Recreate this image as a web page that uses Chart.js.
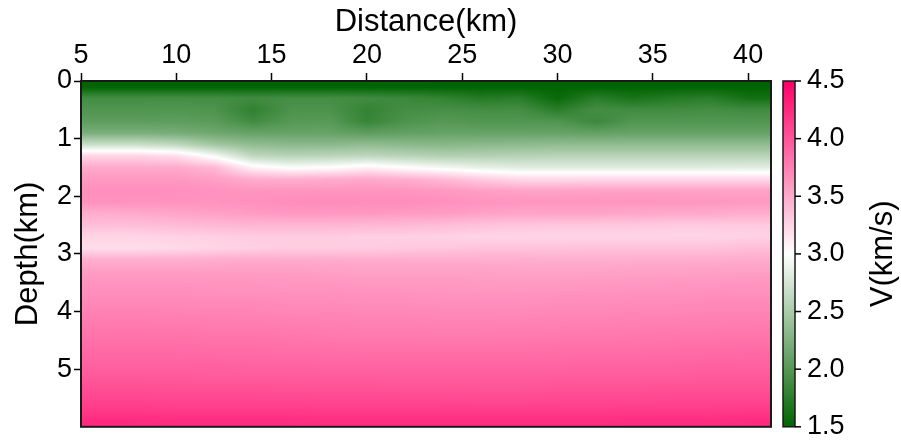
<!DOCTYPE html>
<html>
<head>
<meta charset="utf-8">
<script src="https://cdn.jsdelivr.net/npm/chart.js@4"></script>
<style>
  html, body { margin: 0; padding: 0; background: #fff; }
  canvas { display: block; }
</style>
</head>
<body>
<canvas id="chart" width="901" height="445"></canvas>
<script>
// grid sample positions (km)
const distance = [6, 8, 10, 12, 14, 16, 18, 20, 22, 24, 26, 28, 30, 32, 34, 36, 38, 40];
const depth = [0.1, 0.3, 0.5, 0.7, 0.9, 1.1, 1.3, 1.5, 1.7, 1.9, 2.1, 2.3, 2.5, 2.7, 2.9,
               3.1, 3.3, 3.5, 3.7, 3.9, 4.1, 4.3, 4.5, 4.7, 4.9, 5.1, 5.3, 5.5, 5.7, 5.9];

// velocity (km/s), one row per depth, one column per distance
const velocity = [
  [1.5,1.5,1.5,1.5,1.5,1.5,1.5,1.5,1.5,1.5,1.5,1.5,1.5,1.5,1.5,1.5,1.5,1.5],
  [1.9,1.9,1.9,1.9,1.88,1.9,1.9,1.88,1.85,1.8,1.72,1.75,1.55,1.75,1.65,1.72,1.75,1.62],
  [1.97,1.97,1.98,1.96,1.78,1.95,1.95,1.8,1.9,1.92,1.9,1.9,1.75,1.9,1.88,1.88,1.9,1.88],
  [2.05,2.05,2.05,2.03,1.88,2.0,2.02,1.82,1.95,2.0,1.98,1.98,1.97,1.85,1.98,1.98,1.98,1.98],
  [2.22,2.22,2.2,2.15,2.1,2.1,2.1,2.05,2.08,2.1,2.1,2.1,2.1,2.08,2.1,2.1,2.1,2.1],
  [2.68,2.68,2.62,2.45,2.35,2.32,2.32,2.35,2.32,2.3,2.32,2.33,2.35,2.35,2.35,2.35,2.35,2.35],
  [3.25,3.25,3.2,2.95,2.62,2.58,2.6,2.62,2.58,2.55,2.55,2.57,2.58,2.58,2.58,2.58,2.58,2.58],
  [3.5,3.5,3.5,3.42,3.07,2.97,3.0,3.08,3.0,2.93,2.86,2.82,2.82,2.82,2.82,2.82,2.82,2.83],
  [3.6,3.6,3.6,3.56,3.48,3.46,3.48,3.5,3.47,3.4,3.3,3.22,3.22,3.22,3.22,3.22,3.22,3.22],
  [3.66,3.66,3.66,3.64,3.62,3.62,3.62,3.62,3.62,3.6,3.56,3.54,3.54,3.55,3.55,3.55,3.55,3.55],
  [3.64,3.64,3.63,3.63,3.65,3.67,3.68,3.67,3.67,3.65,3.63,3.62,3.62,3.62,3.62,3.62,3.61,3.6],
  [3.48,3.5,3.53,3.55,3.58,3.6,3.6,3.6,3.58,3.58,3.55,3.53,3.53,3.53,3.52,3.5,3.5,3.48],
  [3.38,3.38,3.4,3.42,3.43,3.43,3.43,3.42,3.41,3.39,3.36,3.34,3.33,3.33,3.33,3.31,3.31,3.31],
  [3.25,3.25,3.27,3.28,3.3,3.3,3.3,3.28,3.28,3.27,3.25,3.25,3.25,3.25,3.25,3.25,3.25,3.27],
  [3.2,3.2,3.22,3.25,3.28,3.3,3.3,3.3,3.32,3.33,3.35,3.35,3.35,3.36,3.36,3.36,3.36,3.38],
  [3.47,3.47,3.47,3.48,3.49,3.49,3.49,3.48,3.48,3.48,3.48,3.48,3.47,3.47,3.48,3.48,3.48,3.49],
  [3.57,3.57,3.57,3.57,3.57,3.57,3.56,3.55,3.55,3.55,3.55,3.54,3.54,3.54,3.55,3.55,3.56,3.56],
  [3.63,3.63,3.63,3.62,3.62,3.61,3.61,3.6,3.6,3.6,3.59,3.59,3.59,3.6,3.6,3.61,3.61,3.62],
  [3.67,3.67,3.67,3.66,3.66,3.65,3.65,3.64,3.64,3.63,3.63,3.63,3.64,3.64,3.65,3.65,3.66,3.66],
  [3.71,3.71,3.71,3.7,3.7,3.69,3.69,3.68,3.68,3.67,3.67,3.67,3.68,3.68,3.69,3.69,3.7,3.7],
  [3.76,3.76,3.75,3.75,3.74,3.73,3.73,3.72,3.72,3.71,3.71,3.71,3.72,3.72,3.73,3.73,3.74,3.74],
  [3.8,3.8,3.8,3.79,3.79,3.78,3.77,3.76,3.76,3.75,3.75,3.76,3.76,3.77,3.77,3.78,3.78,3.79],
  [3.84,3.84,3.84,3.83,3.83,3.82,3.81,3.8,3.8,3.8,3.8,3.8,3.81,3.81,3.82,3.82,3.83,3.83],
  [3.88,3.88,3.88,3.87,3.87,3.86,3.86,3.85,3.85,3.85,3.85,3.85,3.86,3.86,3.86,3.87,3.87,3.88],
  [3.92,3.92,3.92,3.92,3.91,3.91,3.9,3.9,3.9,3.9,3.9,3.9,3.9,3.91,3.91,3.91,3.92,3.92],
  [3.97,3.97,3.97,3.96,3.96,3.96,3.95,3.95,3.95,3.95,3.95,3.95,3.95,3.96,3.96,3.96,3.97,3.97],
  [4.03,4.03,4.02,4.02,4.02,4.01,4.01,4.01,4.0,4.0,4.0,4.0,4.01,4.01,4.01,4.02,4.02,4.02],
  [4.09,4.09,4.08,4.08,4.08,4.08,4.07,4.07,4.07,4.07,4.06,4.06,4.07,4.07,4.07,4.08,4.08,4.08],
  [4.16,4.16,4.15,4.15,4.15,4.15,4.14,4.14,4.14,4.14,4.14,4.14,4.14,4.14,4.15,4.15,4.15,4.16],
  [4.25,4.25,4.24,4.24,4.24,4.24,4.23,4.23,4.23,4.23,4.23,4.23,4.23,4.23,4.24,4.24,4.24,4.25]
];

const distanceTicks = [5, 10, 15, 20, 25, 30, 35, 40];
const depthTicks = [0, 1, 2, 3, 4, 5];
const colorbarTicks = [1.5, 2.0, 2.5, 3.0, 3.5, 4.0, 4.5];

// green -> white -> pink
const cmap = [
  [1.5, [0, 100, 0]],
  [3.0, [255, 255, 255]],
  [4.5, [255, 0, 102]]
];

function colorFor(v) {
  if (v <= cmap[0][0]) return cmap[0][1];
  const last = cmap[cmap.length - 1];
  if (v >= last[0]) return last[1];
  let i = 0;
  while (cmap[i + 1][0] < v) i++;
  const t = (v - cmap[i][0]) / (cmap[i + 1][0] - cmap[i][0]);
  const a = cmap[i][1], b = cmap[i + 1][1];
  return [a[0] + (b[0] - a[0]) * t, a[1] + (b[1] - a[1]) * t, a[2] + (b[2] - a[2]) * t];
}

// position of v between samples of arr: [i0, i1, frac]
function locate(arr, v) {
  const n = arr.length;
  if (v <= arr[0]) return [0, 0, 0];
  if (v >= arr[n - 1]) return [n - 1, n - 1, 0];
  let i = 0;
  while (arr[i + 1] < v) i++;
  return [i, i + 1, (v - arr[i]) / (arr[i + 1] - arr[i])];
}

const font = 'Liberation Sans, Arial, Helvetica, sans-serif';

const heatmap = {
  id: 'heatmap',
  beforeDatasetsDraw(chart) {
    const { ctx, chartArea: a, scales: { x, y } } = chart;
    const left = Math.round(a.left), top = Math.round(a.top);
    const w = Math.round(a.right) - left, h = Math.round(a.bottom) - top;
    const img = ctx.createImageData(w, h);
    const cols = [], rows = [];
    for (let i = 0; i < w; i++) cols.push(locate(distance, x.getValueForPixel(left + i + 0.5)));
    for (let j = 0; j < h; j++) rows.push(locate(depth, y.getValueForPixel(top + j + 0.5)));
    let k = 0;
    for (let j = 0; j < h; j++) {
      const [r0, r1, fr] = rows[j];
      for (let i = 0; i < w; i++) {
        const [c0, c1, fc] = cols[i];
        const top0 = velocity[r0][c0] * (1 - fc) + velocity[r0][c1] * fc;
        const bot0 = velocity[r1][c0] * (1 - fc) + velocity[r1][c1] * fc;
        const c = colorFor(top0 * (1 - fr) + bot0 * fr);
        img.data[k++] = c[0];
        img.data[k++] = c[1];
        img.data[k++] = c[2];
        img.data[k++] = 255;
      }
    }
    ctx.putImageData(img, left, top);
  },
  afterDraw(chart) {
    const { ctx, chartArea: a, scales: { cb } } = chart;
    ctx.save();
    // plot frame
    ctx.strokeStyle = '#1a1a1a';
    ctx.lineWidth = 2;
    ctx.strokeRect(a.left, a.top, a.right - a.left, a.bottom - a.top);

    // colorbar strip
    const x0 = cb.left + 12, bw = 12;
    for (let py = Math.floor(cb.top); py < Math.ceil(cb.bottom); py++) {
      const c = colorFor(cb.getValueForPixel(py + 0.5));
      ctx.fillStyle = `rgb(${c[0]},${c[1]},${c[2]})`;
      ctx.fillRect(x0, py, bw, 1);
    }
    ctx.lineWidth = 1.5;
    ctx.strokeRect(x0, cb.top, bw, cb.bottom - cb.top);
    ctx.strokeStyle = '#000';
    colorbarTicks.forEach(v => {
      const yy = cb.getPixelForValue(v);
      ctx.beginPath();
      ctx.moveTo(x0 + bw, yy);
      ctx.lineTo(x0 + bw + 6, yy);
      ctx.stroke();
    });

    // colorbar label, reading upwards
    ctx.fillStyle = '#000';
    ctx.font = `31px ${font}`;
    ctx.textAlign = 'center';
    ctx.textBaseline = 'middle';
    ctx.translate(cb.right - 18, (cb.top + cb.bottom) / 2);
    ctx.rotate(-Math.PI / 2);
    ctx.fillText('V(km/s)', 0, 0);
    ctx.restore();
  }
};

const tickFont = { family: font, size: 27 };
const titleFont = { family: font, size: 31 };

new Chart(document.getElementById('chart'), {
  type: 'scatter',
  data: { datasets: [] },
  options: {
    responsive: false,
    animation: false,
    devicePixelRatio: 1,
    layout: { padding: { left: 0, right: 0, top: 0, bottom: 18 } },
    plugins: { legend: { display: false }, tooltip: { enabled: false } },
    scales: {
      x: {
        type: 'linear',
        position: 'top',
        min: 5,
        max: 41.2,
        afterBuildTicks: s => { s.ticks = distanceTicks.map(v => ({ value: v })); },
        afterFit: s => { s.height = 81; },
        border: { display: false },
        grid: { drawOnChartArea: false, drawTicks: true, tickLength: 8, tickWidth: 1.5, tickColor: '#000' },
        ticks: { font: tickFont, color: '#000', padding: 1, maxRotation: 0, autoSkip: false },
        title: { display: true, text: 'Distance(km)', font: titleFont, color: '#000', padding: { top: 4, bottom: 0 } }
      },
      y: {
        type: 'linear',
        position: 'left',
        reverse: true,
        min: 0,
        max: 6,
        afterBuildTicks: s => { s.ticks = depthTicks.map(v => ({ value: v })); },
        afterFit: s => { s.width = 81; },
        border: { display: false },
        grid: { drawOnChartArea: false, drawTicks: true, tickLength: 7, tickWidth: 1.5, tickColor: '#000' },
        ticks: { font: tickFont, color: '#000', padding: 2, autoSkip: false },
        title: { display: true, text: 'Depth(km)', font: titleFont, color: '#000', padding: { top: 10, bottom: 0 } }
      },
      cb: {
        type: 'linear',
        axis: 'y',
        position: 'right',
        min: 1.5,
        max: 4.5,
        afterBuildTicks: s => { s.ticks = colorbarTicks.map(v => ({ value: v })); },
        afterFit: s => { s.width = 130; },
        border: { display: false },
        // invisible tick marks only reserve room for the colour strip
        grid: { drawOnChartArea: false, drawTicks: true, tickLength: 36, tickColor: 'rgba(0,0,0,0)' },
        ticks: { font: tickFont, color: '#000', padding: 0, autoSkip: false, callback: v => v.toFixed(1) },
        title: { display: false }
      }
    }
  },
  plugins: [heatmap]
});
</script>
</body>
</html>
